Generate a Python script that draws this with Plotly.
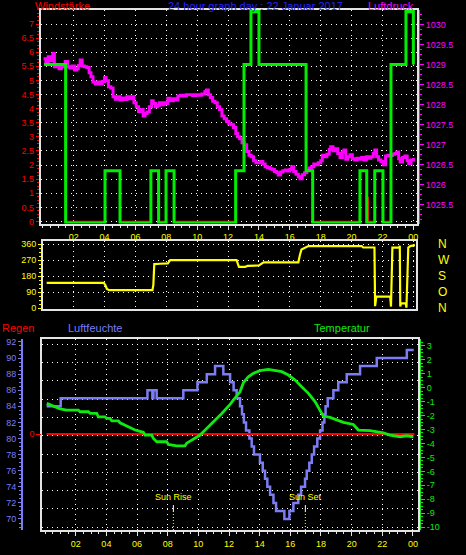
import plotly.graph_objects as go

# ---------------- data ----------------
hour_ticks = [2, 4, 6, 8, 10, 12, 14, 16, 18, 20, 22, 24]
hour_labels = ["02", "04", "06", "08", "10", "12", "14", "16", "18", "20", "22", "00"]

wind_ticks = [0, 0.5, 1, 1.5, 2, 2.5, 3, 3.5, 4, 4.5, 5, 5.5, 6, 6.5, 7]
wind_tick_labels = ["0", "0.5", "1", "1.5", "2", "2.5", "3", "3.5", "4", "4.5", "5", "5.5", "6", "6.5", "7"]
press_ticks = [1025.5, 1026, 1026.5, 1027, 1027.5, 1028, 1028.5, 1029, 1029.5, 1030]
press_tick_labels = ["1025.5", "1026", "1026.5", "1027", "1027.5", "1028", "1028.5", "1029", "1029.5", "1030"]
dir_ticks = [0, 90, 180, 270, 360]
dir_letters = ["N", "O", "S", "W", "N"]
hum_ticks = [70, 72, 74, 76, 78, 80, 82, 84, 86, 88, 90, 92]
temp_ticks = [-10, -9, -8, -7, -6, -5, -4, -3, -2, -1, 0, 1, 2, 3]
temp_tick_labels = ["-10", "-9", "-8", "-7", "-6", "-5", "-4", "-3", "-2", "-1", "0", "1", "2", "3"]
rain_ticks = [0]

# Luftdruck (hPa)
press_hours = [0.05, 0.2, 0.35, 0.5, 0.65, 0.75, 0.9, 1.05, 1.2, 1.35,
               1.45, 1.6, 1.75, 1.9, 2.05, 2.2, 2.3, 2.42, 2.55, 2.7,
               2.85, 3.0, 3.12, 3.25, 3.4, 3.55, 3.7, 3.85, 4.0, 4.1,
               4.25, 4.4, 4.55, 4.7, 4.85, 5.0, 5.15, 5.3, 5.45, 5.6,
               5.75, 5.9, 6.05, 6.2, 6.35, 6.5, 6.62, 6.75, 6.9, 7.05,
               7.15, 7.3, 7.42, 7.55, 7.7, 7.85, 8.0, 8.1, 8.25, 8.45,
               8.6, 8.75, 8.9, 9.1, 9.3, 9.5, 9.7, 9.9, 10.1, 10.3,
               10.5, 10.6, 10.72, 10.85, 11.0, 11.15, 11.3, 11.45, 11.6, 11.75,
               11.9, 12.05, 12.2, 12.35, 12.5, 12.62, 12.75, 12.9, 13.05, 13.2,
               13.35, 13.5, 13.65, 13.8, 13.95, 14.1, 14.25, 14.4, 14.55, 14.7,
               14.85, 15.0, 15.15, 15.25, 15.4, 15.55, 15.7, 15.85, 16.0, 16.12,
               16.25, 16.4, 16.55, 16.66, 16.8, 16.95, 17.1, 17.25, 17.4, 17.55,
               17.7, 17.85, 18.0, 18.1, 18.25, 18.4, 18.55, 18.65, 18.8, 18.95,
               19.1, 19.25, 19.4, 19.5, 19.62, 19.75, 19.9, 20.05, 20.2, 20.35,
               20.5, 20.65, 20.8, 20.95, 21.1, 21.25, 21.4, 21.5, 21.62, 21.75,
               21.9, 22.05, 22.2, 22.35, 22.5, 22.65, 22.8, 22.92, 23.05, 23.15,
               23.3, 23.45, 23.6, 23.7, 23.85, 24.0]
press_hpa = [1029.15, 1029.05, 1029.2, 1029.1, 1029.28, 1028.95, 1029.0, 1028.9, 1029.0, 1028.95,
             1029.08, 1028.95, 1028.92, 1028.97, 1028.87, 1028.9, 1028.98, 1029.12, 1028.97, 1028.95,
             1028.93, 1028.8, 1028.7, 1028.57, 1028.52, 1028.57, 1028.52, 1028.58, 1028.68, 1028.6,
             1028.45, 1028.42, 1028.2, 1028.14, 1028.2, 1028.12, 1028.17, 1028.13, 1028.2, 1028.15,
             1028.2, 1028.05, 1027.95, 1027.83, 1027.88, 1027.72, 1027.78, 1027.82, 1027.95, 1028.1,
             1028.03, 1027.95, 1027.99, 1028.05, 1028.0, 1028.05, 1028.03, 1028.16, 1028.1, 1028.15,
             1028.12, 1028.22, 1028.24, 1028.22, 1028.25, 1028.25, 1028.23, 1028.25, 1028.24, 1028.27,
             1028.33, 1028.37, 1028.25, 1028.18, 1028.09, 1028.05, 1027.95, 1027.88, 1027.72, 1027.65,
             1027.58, 1027.52, 1027.5, 1027.43, 1027.28, 1027.2, 1027.15, 1027.05, 1027.0, 1026.83,
             1026.74, 1026.7, 1026.6, 1026.55, 1026.55, 1026.58, 1026.52, 1026.45, 1026.43, 1026.4,
             1026.38, 1026.33, 1026.3, 1026.24, 1026.32, 1026.35, 1026.37, 1026.34, 1026.38, 1026.45,
             1026.33, 1026.26, 1026.2, 1026.15, 1026.25, 1026.3, 1026.36, 1026.42, 1026.45, 1026.52,
             1026.5, 1026.55, 1026.6, 1026.74, 1026.7, 1026.76, 1026.88, 1026.95, 1026.85, 1026.9,
             1026.78, 1026.68, 1026.82, 1026.87, 1026.64, 1026.7, 1026.75, 1026.65, 1026.62, 1026.66,
             1026.64, 1026.68, 1026.62, 1026.7, 1026.66, 1026.7, 1026.78, 1026.87, 1026.7, 1026.62,
             1026.58, 1026.5, 1026.72, 1026.74, 1026.73, 1026.76, 1026.78, 1026.82, 1026.65, 1026.57,
             1026.68, 1026.72, 1026.6, 1026.53, 1026.62, 1026.67]

# Windstärke (red) and gusts (green), step values
wind_hours = [0.08, 1.48, 4.03, 5.0, 7.0, 7.5, 7.98, 8.5, 12.49, 13.03, 13.48, 14.0,
              17.05, 17.48, 20.54, 20.98, 21.04, 21.08, 21.5, 22.03, 22.55, 23.52, 24.0]
wind_bft = [5.55, 0, 1.8, 0, 1.8, 0, 1.8, 0, 1.8, 5.55, 7.4, 5.55,
            1.8, 0, 1.8, 0, 0.85, 0, 1.8, 0, 5.55, 7.4, 5.55]
gust_hours = [0.08, 1.48, 4.03, 5.0, 7.0, 7.5, 7.98, 8.5, 12.49, 13.03, 13.48, 14.0,
              17.05, 17.48, 20.54, 20.98, 21.5, 22.03, 22.55, 23.52, 24.0]
gust_bft = [5.62, 0, 1.85, 0, 1.85, 0, 1.85, 0, 1.85, 5.62, 7.5, 5.62,
            1.85, 0, 1.85, 0, 1.85, 0, 5.62, 7.5, 5.62]

# Windrichtung (degrees)
dir_hours = [0.25, 3.95, 4.05, 4.15, 4.3, 7.1, 7.16, 7.22, 7.6, 8.1,
             8.25, 12.55, 12.7, 13.1, 13.25, 14.0, 14.3, 16.55, 16.65, 16.75,
             17.2, 20.65, 20.75, 21.48, 21.52, 21.6, 22.5, 22.55, 22.64, 23.1,
             23.12, 23.15, 23.2, 23.5, 23.55, 23.67, 23.8, 24.1]
dir_deg = [142, 142, 130, 108, 101, 101, 130, 248, 250, 252,
           270, 270, 232, 232, 238, 240, 258, 258, 300, 330,
           350, 350, 342, 342, 10, 64, 64, 8, 341, 341,
           352, 8, 26, 26, 2, 341, 350, 355]

# Luftfeuchte (%)
hum_hours = [0.1, 1.02, 6.68, 7.0, 7.07, 7.28, 9.02, 9.94, 10.55, 11.09,
             11.63, 12.07, 12.3, 12.5, 12.72, 12.85, 12.97, 13.11, 13.33, 13.48,
             13.63, 14.02, 14.2, 14.35, 14.5, 14.68, 14.9, 15.07, 15.61, 15.94,
             16.2, 16.52, 16.7, 16.96, 17.07, 17.24, 17.4, 17.55, 17.76, 17.94,
             18.1, 18.22, 18.3, 18.44, 18.81, 19.13, 19.68, 20.55, 21.64, 23.6,
             24.05]
hum_pct = [84, 85, 86, 85, 86, 85, 86, 87, 88, 89,
           88, 87, 86, 85, 84, 83, 82, 81, 80, 79,
           78, 77, 76, 75, 74, 73, 72, 71, 70, 71,
           72, 73, 74, 75, 76, 77, 78, 79, 80, 81,
           82, 83, 84, 85, 86, 87, 88, 89, 90, 91,
           91]

# Temperatur (°C)
temp_hours = [0.11, 0.54, 0.98, 1.41, 2.17, 2.28, 2.83, 2.94, 3.37, 3.48,
              3.91, 4.02, 4.24, 4.35, 4.78, 4.89, 5.22, 5.54, 5.87, 6.41,
              6.52, 6.96, 7.07, 7.29, 7.94, 8.04, 8.59, 9.13, 9.24, 9.57,
              10.11, 10.33, 10.55, 10.76, 10.98, 11.2, 11.53, 11.85, 12.07, 12.28,
              12.5, 12.72, 12.94, 13.26, 13.59, 14.03, 14.57, 14.89, 15.44, 15.87,
              16.31, 16.74, 17.18, 17.61, 17.94, 18.15, 18.59, 19.03, 19.46, 20.11,
              20.44, 21.2, 22.07, 22.5, 23.16, 23.59, 24.03]
temp_c = [-1.13, -1.32, -1.52, -1.61, -1.61, -1.73, -1.73, -1.85, -1.85, -2.09,
          -2.09, -2.21, -2.21, -2.38, -2.38, -2.52, -2.68, -2.85, -3.04, -3.2,
          -3.4, -3.4, -3.64, -3.88, -3.88, -4.07, -4.17, -4.17, -3.98, -3.76,
          -3.4, -3.16, -2.9, -2.68, -2.45, -2.21, -1.85, -1.49, -1.2, -0.9,
          -0.6, -0.3, 0.35, 0.78, 1.02, 1.21, 1.31, 1.26, 1.14, 0.9,
          0.54, 0.06, -0.41, -1.0, -1.6, -2.04, -2.13, -2.33, -2.49, -2.64,
          -3.04, -3.08, -3.24, -3.4, -3.52, -3.45, -3.52]

# Regen (mm)
rain_hours = [0.1, 24.1]
rain_mm = [0, 0]

sunrise_hour = 8.37
sunset_hour = 16.98

# ---------------- layout helpers ----------------
FW, FH = 466, 555


def fx(p):
    return p / FW


def fy(p):
    return 1 - p / FH


FONT = "Liberation Sans"
BORDER = "#E4E4E4"
GRID = "#FFFFFF"
DASH = "1px,4px"
RED = "#FF0000"
MAGENTA = "#FF00FF"
GREEN_TOP = "#00EE00"
YELLOW = "#FFFF00"
BLUE = "#7C7CF4"
GREEN = "#10E810"
TS = 9

top_dx = [fx(40.7), fx(417.3)]
top_dy = [fy(223.5), fy(10)]
mid_dx = [fx(43), fx(415.7)]
mid_dy = [fy(309), fy(241)]
bot_dx = [fx(42.3), fx(417.7)]
bot_dy = [fy(530), fy(339.3)]

fig = go.Figure()

# ---- top panel ----
fig.add_trace(go.Scatter(x=wind_hours, y=wind_bft, mode="lines", xaxis="x", yaxis="y",
                         line=dict(color=RED, width=1.5, shape="hv"), hoverinfo="skip"))
fig.add_trace(go.Scatter(x=gust_hours, y=gust_bft, mode="lines", xaxis="x", yaxis="y9",
                         line=dict(color=GREEN_TOP, width=3, shape="hv"), hoverinfo="skip"))
fig.add_trace(go.Scatter(x=press_hours, y=press_hpa, mode="lines", xaxis="x", yaxis="y2",
                         line=dict(color=MAGENTA, width=3, shape="hv"), hoverinfo="skip"))

# ---- middle panel ----
fig.add_trace(go.Scatter(x=dir_hours, y=dir_deg, mode="lines", xaxis="x2", yaxis="y3",
                         line=dict(color=YELLOW, width=2.2), hoverinfo="skip"))
fig.add_trace(go.Scatter(x=[None], y=[None], mode="lines", xaxis="x2", yaxis="y4",
                         hoverinfo="skip"))

# ---- bottom panel ----
fig.add_trace(go.Scatter(x=[None], y=[None], mode="lines", xaxis="x3", yaxis="y5",
                         hoverinfo="skip"))
fig.add_trace(go.Scatter(x=hum_hours, y=hum_pct, mode="lines", xaxis="x3", yaxis="y6",
                         line=dict(color=BLUE, width=2.5, shape="hv"), hoverinfo="skip"))
fig.add_trace(go.Scatter(x=temp_hours, y=temp_c, mode="lines", xaxis="x3", yaxis="y8",
                         line=dict(color=GREEN, width=2.8), hoverinfo="skip"))
fig.add_trace(go.Scatter(x=rain_hours, y=rain_mm, mode="lines", xaxis="x3", yaxis="y7",
                         line=dict(color=RED, width=2), hoverinfo="skip"))


def xaxis_common(domain, rng, anchor, labels=True):
    d = dict(domain=domain, range=rng, anchor=anchor, tickmode="array",
             tickvals=hour_ticks, ticktext=hour_labels,
             showticklabels=labels,
             tickfont=dict(color=YELLOW, size=TS, family=FONT),
             showgrid=True, gridcolor=GRID, griddash=DASH, gridwidth=1,
             showline=True, linecolor=BORDER, linewidth=2, mirror=True,
             zeroline=False, fixedrange=True, automargin=False)
    if labels:
        d.update(ticks="outside", ticklen=4, tickwidth=1, tickcolor=BORDER,
                 minor=dict(dtick=0.5, tick0=0, ticks="outside", ticklen=2,
                            tickcolor=BORDER, showgrid=False))
    else:
        d.update(ticks="")
    return d


fig.update_layout(
    width=FW, height=FH, autosize=False,
    margin=dict(l=0, r=0, t=0, b=0, pad=0, autoexpand=False),
    paper_bgcolor="black", plot_bgcolor="black",
    showlegend=False,
    font=dict(family=FONT, color="white"),
    xaxis=xaxis_common(top_dx, [-0.136, 24.255], "y"),
    yaxis=dict(domain=top_dy, range=[-0.071, 7.497], anchor="x",
               tickmode="array", tickvals=wind_ticks, ticktext=wind_tick_labels,
               tickfont=dict(color=RED, size=TS, family=FONT),
               ticks="outside", ticklen=3, tickcolor=RED,
               minor=dict(dtick=0.125, tick0=0, ticks="outside", ticklen=2,
                          tickcolor=RED, showgrid=False),
               showgrid=True, gridcolor=GRID, griddash=DASH, gridwidth=1,
               showline=True, linecolor=BORDER, linewidth=2, mirror=True,
               zeroline=False, fixedrange=True, automargin=False),
    yaxis9=dict(overlaying="y", anchor="x", range=[-0.018, 7.55], visible=False,
                fixedrange=True),
    yaxis2=dict(overlaying="y", side="right", anchor="free", position=fx(419),
                range=[1025.03, 1030.37], tickmode="array",
                tickvals=press_ticks, ticktext=press_tick_labels,
                tickfont=dict(color=MAGENTA, size=TS, family=FONT),
                ticks="outside", ticklen=4, tickcolor=MAGENTA,
                minor=dict(dtick=0.125, tick0=0, ticks="outside", ticklen=2,
                           tickcolor=MAGENTA, showgrid=False),
                showline=True, linecolor=MAGENTA, linewidth=1,
                showgrid=False, zeroline=False, fixedrange=True, automargin=False),
    xaxis2=xaxis_common(mid_dx, [0.013, 24.15], "y3", labels=False),
    yaxis3=dict(domain=mid_dy, range=[-5.65, 378.6], anchor="x2",
                tickmode="array", tickvals=dir_ticks,
                tickfont=dict(color=YELLOW, size=TS, family=FONT),
                ticks="outside", ticklen=3, tickcolor=YELLOW,
                minor=dict(dtick=22.5, tick0=0, ticks="outside", ticklen=2,
                           tickcolor=YELLOW, showgrid=False),
                showgrid=True, gridcolor=GRID, griddash=DASH, gridwidth=1,
                showline=True, linecolor=BORDER, linewidth=2, mirror=True,
                zeroline=False, fixedrange=True, automargin=False),
    yaxis4=dict(overlaying="y3", side="right", anchor="x2", range=[-5.65, 378.6],
                tickmode="array", tickvals=dir_ticks, ticktext=dir_letters,
                tickfont=dict(color=YELLOW, size=12, family=FONT),
                ticks="outside", ticklen=19, tickcolor="rgba(0,0,0,0)",
                showgrid=False, showline=False, zeroline=False, fixedrange=True,
                automargin=False),
    xaxis3=xaxis_common(bot_dx, [-0.18, 24.31], "y5"),
    yaxis5=dict(domain=bot_dy, range=[-0.15, 10.27], anchor="x3",
                dtick=1, tick0=0, showticklabels=False, ticks="",
                showgrid=True, gridcolor=GRID, griddash=DASH, gridwidth=1,
                showline=True, linecolor=BORDER, linewidth=2, mirror=True,
                zeroline=False, fixedrange=True, automargin=False),
    yaxis6=dict(overlaying="y5", side="left", anchor="free", position=fx(22),
                range=[68.63, 92.33], tickmode="array", tickvals=hum_ticks,
                tickfont=dict(color=BLUE, size=TS, family=FONT),
                ticks="outside", ticklen=3, tickcolor=BLUE,
                minor=dict(dtick=0.5, tick0=0, ticks="outside", ticklen=2,
                           tickcolor=BLUE, showgrid=False),
                showline=True, linecolor=BLUE, linewidth=2,
                showgrid=False, zeroline=False, fixedrange=True, automargin=False),
    yaxis7=dict(overlaying="y5", side="left", anchor="x3",
                range=[-0.5034, 0.4966], tickmode="array", tickvals=rain_ticks,
                ticktext=["0"],
                tickfont=dict(color=RED, size=TS, family=FONT),
                ticks="outside", ticklen=5, tickcolor=RED,
                showline=False, showgrid=False, zeroline=False, fixedrange=True,
                automargin=False),
    yaxis8=dict(overlaying="y5", side="right", anchor="free", position=fx(419.5),
                range=[-10.2, 3.46], tickmode="array", tickvals=temp_ticks,
                ticktext=temp_tick_labels,
                tickfont=dict(color=GREEN, size=TS, family=FONT),
                ticks="outside", ticklen=4, tickcolor=GREEN,
                minor=dict(dtick=0.25, tick0=0, ticks="outside", ticklen=2,
                           tickcolor=GREEN, showgrid=False),
                showline=True, linecolor=GREEN, linewidth=1.5,
                showgrid=False, zeroline=False, fixedrange=True, automargin=False),
)

# Sun rise / sun set markers
shapes = []
annotations = []
for hr, label_text in [(sunrise_hour, "Sun Rise"), (sunset_hour, "Sun Set")]:
    shapes.append(dict(type="line", xref="x3", yref="y5 domain", x0=hr, x1=hr,
                       y0=0.094, y1=0.131, line=dict(color="white", width=1)))
    shapes.append(dict(type="line", xref="x3", yref="y5 domain", x0=hr, x1=hr,
                       y0=0.0, y1=0.094, line=dict(color=YELLOW, width=1, dash="1px,2px")))
    annotations.append(dict(x=hr, y=0.171, xref="x3", yref="y5 domain", text=label_text,
                            showarrow=False, xanchor="center", yanchor="middle",
                            font=dict(color=YELLOW, size=9, family=FONT)))


def label(text, x, y, color, anchor="left", size=11):
    annotations.append(dict(x=x, y=y, xref="paper", yref="paper", text=text,
                            showarrow=False, xanchor=anchor, yanchor="middle",
                            font=dict(color=color, size=size, family=FONT)))


label("Windstärke", fx(33), fy(6.5), RED)
label("24 hour graph day : 22 Januar 2017", fx(255.5), fy(6.5), "#2424FF", anchor="center")
label("Luftdruck", fx(416), fy(6.5), MAGENTA, anchor="right")
label("Regen", fx(0), fy(327.5), RED)
label("Luftfeuchte", fx(66), fy(327.5), BLUE)
label("Temperatur", fx(312), fy(327.5), GREEN)

fig.update_layout(shapes=shapes, annotations=annotations)

fig.write_html(
    "out.html",
    config={"displayModeBar": False, "staticPlot": True},
    post_script="document.body.style.margin='0';document.body.style.padding='0';"
                "document.body.style.overflow='hidden';document.body.style.background='black';",
)
